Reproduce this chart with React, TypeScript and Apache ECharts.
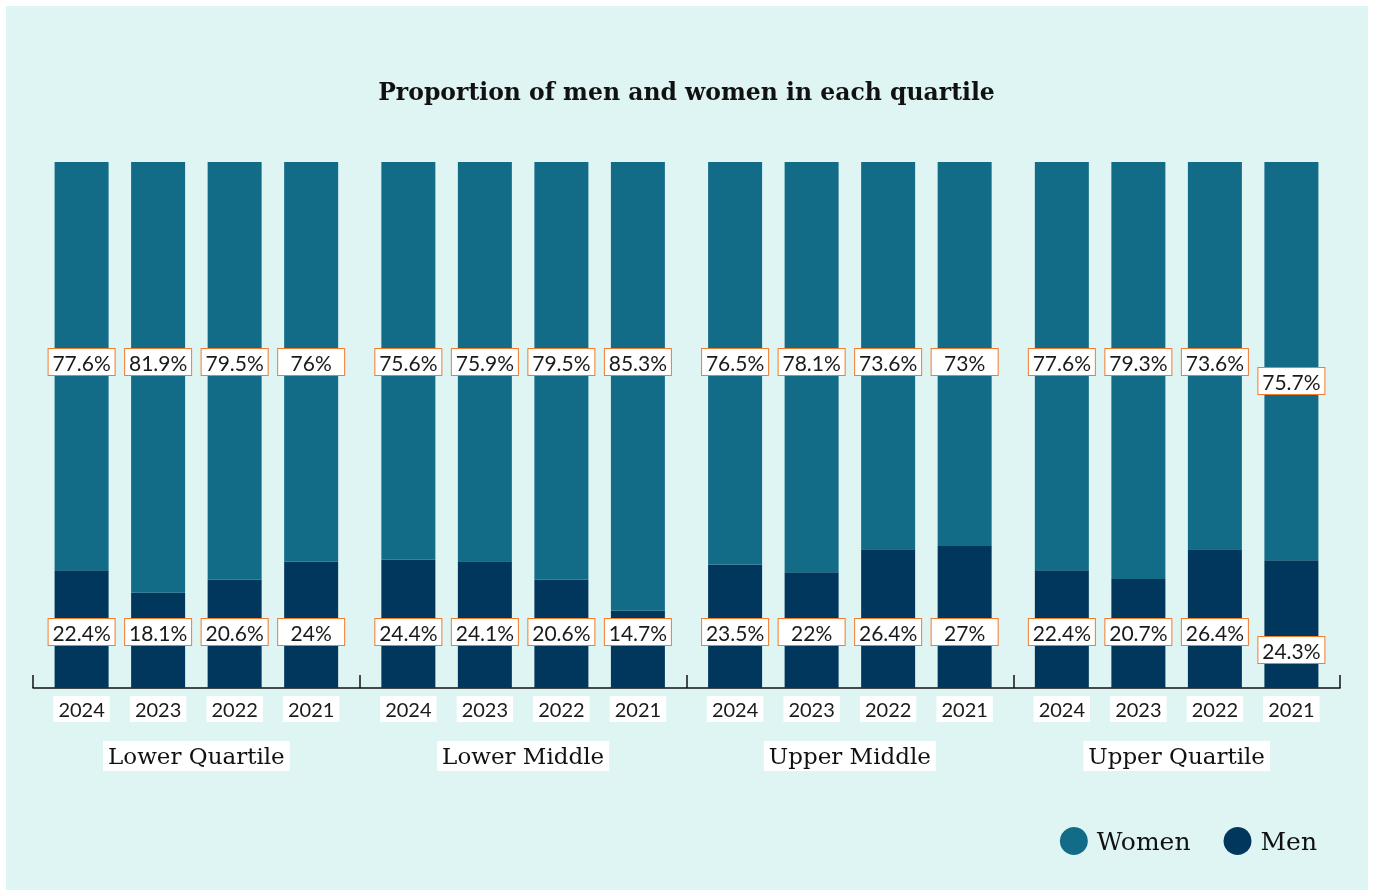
import React, { useEffect, useRef } from "react";
import * as echarts from "echarts";

const quartiles = ["Lower Quartile", "Lower Middle", "Upper Middle", "Upper Quartile"];
const years = ["2024", "2023", "2022", "2021"];

const womenLowerQuartile = [77.6, 81.9, 79.5, 76];
const womenLowerMiddle = [75.6, 75.9, 79.5, 85.3];
const womenUpperMiddle = [76.5, 78.1, 73.6, 73];
const womenUpperQuartile = [77.6, 79.3, 73.6, 75.7];

const menLowerQuartile = [22.4, 18.1, 20.6, 24];
const menLowerMiddle = [24.4, 24.1, 20.6, 14.7];
const menUpperMiddle = [23.5, 22, 26.4, 27];
const menUpperQuartile = [22.4, 20.7, 26.4, 24.3];

const womenByQuartile = [womenLowerQuartile, womenLowerMiddle, womenUpperMiddle, womenUpperQuartile];
const menByQuartile = [menLowerQuartile, menLowerMiddle, menUpperMiddle, menUpperQuartile];

const WOMEN_COLOR = "#126c87";
const MEN_COLOR = "#02375d";
const ORANGE = "#f47a2c";

export default function App() {
  const ref = useRef<HTMLDivElement>(null);

  useEffect(() => {
    if (!ref.current) return;
    const chart = echarts.init(ref.current, undefined, { renderer: "svg" });

    const pctLabel = {
      show: true,
      formatter: (p: any) => p.value + "%",
      fontFamily: "Lato",
      fontSize: 21,
      color: "#1a1a1a",
      backgroundColor: "#ffffff",
      borderColor: ORANGE,
      borderWidth: 1,
      width: 64,
      lineHeight: 24,
      padding: [1, 1],
      align: "center",
    };

    const series: any[] = [];
    years.forEach((year, yi) => {
      const stack = "s" + year;
      series.push({
        name: "y" + year,
        type: "bar",
        stack,
        barWidth: 54,
        barGap: "41.7%",
        data: quartiles.map(() => 0),
        itemStyle: { color: MEN_COLOR },
        label: {
          show: true,
          position: "bottom",
          distance: 8,
          formatter: () => year,
          fontFamily: "Lato",
          fontSize: 20,
          color: "#1a1a1a",
          backgroundColor: "#ffffff",
          padding: [1, 5],
          lineHeight: 24,
        },
      });
      series.push({
        name: "Men",
        type: "bar",
        stack,
        barWidth: 54,
        barGap: "41.7%",
        itemStyle: { color: MEN_COLOR },
        data: quartiles.map((_, qi) => {
          const v = menByQuartile[qi][yi];
          const shifted = qi === 3 && yi === 3;
          return { value: v, label: { distance: shifted ? 25 : 43 } };
        }),
        label: { ...pctLabel, position: "insideBottom" },
      });
      series.push({
        name: "Women",
        type: "bar",
        stack,
        barWidth: 54,
        barGap: "41.7%",
        itemStyle: { color: WOMEN_COLOR },
        data: quartiles.map((_, qi) => {
          const v = womenByQuartile[qi][yi];
          const shifted = qi === 3 && yi === 3;
          return { value: v, label: { distance: shifted ? 206 : 187 } };
        }),
        label: { ...pctLabel, position: "insideTop" },
      });
    });

    chart.setOption({
      animation: false,
      graphic: [
        {
          type: "rect",
          shape: { x: 6, y: 6, width: 1362, height: 884 },
          style: { fill: "#dff5f3" },
          z: -10,
          silent: true,
        },
      ],
      title: {
        text: "Proportion of men and women in each quartile",
        left: "center",
        top: 75,
        textStyle: {
          fontFamily: "DejaVu Serif",
          fontWeight: "bold",
          fontSize: 23.5,
          color: "#111111",
        },
      },
      legend: {
        data: ["Women", "Men"],
        right: 51,
        top: 822,
        icon: "circle",
        itemWidth: 28,
        itemHeight: 28,
        itemGap: 33,
        textStyle: {
          fontFamily: "DejaVu Serif",
          fontSize: 25,
          color: "#111111",
          padding: [0, 0, 0, 4],
        },
      },
      grid: { left: 33, right: 33, top: 162, bottom: 207 },
      xAxis: {
        type: "category",
        data: quartiles,
        axisLine: { show: true, lineStyle: { color: "#111111", width: 1.5 } },
        axisTick: { show: true, inside: true, length: 13, lineStyle: { color: "#111111", width: 1.5 } },
        axisLabel: {
          margin: 53,
          fontFamily: "DejaVu Serif",
          fontSize: 23,
          color: "#111111",
          backgroundColor: "#ffffff",
          padding: [2, 5],
          lineHeight: 26,
        },
      },
      yAxis: {
        type: "value",
        min: 0,
        max: 100,
        show: false,
        splitLine: { show: false },
      },
      series,
    });

    return () => chart.dispose();
  }, []);

  return (
    <div
      ref={ref}
      style={{ position: "fixed", left: 0, top: 0, width: 1373, height: 895 }}
    />
  );
}
